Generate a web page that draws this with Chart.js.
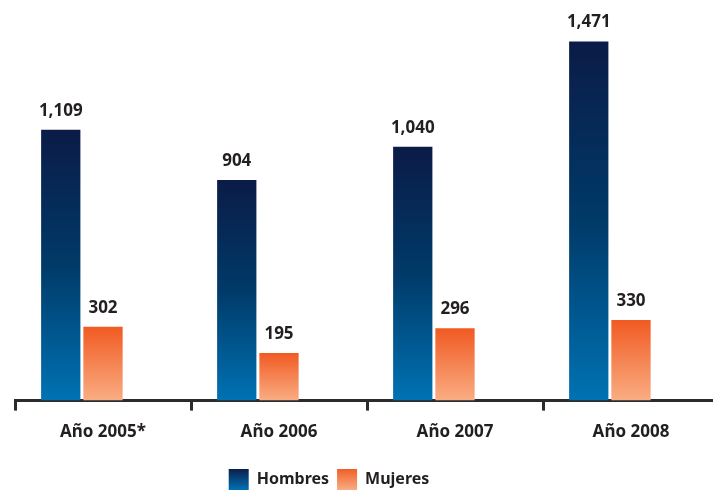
<!DOCTYPE html>
<html>
<head>
<meta charset="utf-8">
<script src="https://cdn.jsdelivr.net/npm/chart.js@4.4.1/dist/chart.umd.min.js"></script>
<style>
  html, body { margin: 0; padding: 0; background: #ffffff; overflow: hidden; }
  #clip { width: 713px; height: 492px; overflow: hidden; position: relative; }
  #wrap { width: 719px; height: 492px; position: relative; }
</style>
</head>
<body>
<div id="clip"><div id="wrap"><canvas id="c"></canvas></div></div>
<script>
const categories = ['Año 2005*', 'Año 2006', 'Año 2007', 'Año 2008'];
const seriesNames = ['Hombres', 'Mujeres'];
const hombres = [1109, 904, 1040, 1471];
const mujeres = [302, 195, 296, 330];
const spacer = [null, null, null, null];

const FONT = "'Noto Sans', 'Open Sans', sans-serif";
const TEXT = '#231f20';

const palettes = [
  ['#0b1b47', '#003a68', '#0072b3'],
  ['#f15a22', '#f58453', '#f9ad83']
];

function barGradient(ctx, dsIndex) {
  const chart = ctx.chart;
  const ys = chart.scales.y;
  if (!ys || ctx.dataIndex === undefined) return palettes[dsIndex][2];
  const v = chart.data.datasets[dsIndex].data[ctx.dataIndex];
  const top = ys.getPixelForValue(v);
  const base = ys.getPixelForValue(0);
  const g = chart.ctx.createLinearGradient(0, top, 0, base);
  g.addColorStop(0, palettes[dsIndex][0]);
  g.addColorStop(0.5, palettes[dsIndex][1]);
  g.addColorStop(1, palettes[dsIndex][2]);
  return g;
}

const valueLabels = {
  id: 'valueLabels',
  afterDatasetsDraw(chart) {
    const c = chart.ctx;
    c.save();
    c.font = "bold 17px " + FONT;
    c.fillStyle = TEXT;
    c.textAlign = 'center';
    c.textBaseline = 'alphabetic';
    [0, 1].forEach(di => {
      const meta = chart.getDatasetMeta(di);
      meta.data.forEach((bar, i) => {
        const v = chart.data.datasets[di].data[i];
        c.fillText(v.toLocaleString('en-US'), bar.x, bar.y - 14);
      });
    });
    c.restore();
  }
};

const legendShift = {
  id: 'legendShift',
  afterLayout(chart) {
    if (chart.legend) {
      chart.legend.left -= 38;
      chart.legend.right -= 38;
      chart.legend.top += 8;
      chart.legend.bottom += 8;
    }
  }
};

const chart = new Chart(document.getElementById('c'), {
  type: 'bar',
  data: {
    labels: categories,
    datasets: [
      { label: seriesNames[0], data: hombres, backgroundColor: ctx => barGradient(ctx, 0) },
      { label: seriesNames[1], data: mujeres, backgroundColor: ctx => barGradient(ctx, 1) },
      { label: '', data: spacer, backgroundColor: 'rgba(0,0,0,0)' }
    ]
  },
  options: {
    responsive: true,
    maintainAspectRatio: false,
    animation: false,
    categoryPercentage: 0.72,
    barPercentage: 0.93,
    layout: { padding: { left: 15, right: 0, top: 10, bottom: 0 } },
    scales: {
      x: {
        offset: true,
        grid: {
          offset: true,
          drawOnChartArea: false,
          drawTicks: true,
          tickLength: 10,
          color: '#2b2b2b',
          lineWidth: 3
        },
        border: { display: true, color: '#2b2b2b', width: 3 },
        ticks: {
          color: TEXT,
          font: { family: FONT, size: 17, weight: 'bold' },
          padding: 11
        }
      },
      y: {
        display: false,
        min: 0,
        max: 1600
      }
    },
    plugins: {
      tooltip: { enabled: false },
      legend: {
        position: 'bottom',
        labels: {
          filter: item => item.datasetIndex < 2,
          boxWidth: 20,
          boxHeight: 21,
          padding: 8,
          color: TEXT,
          font: { family: FONT, size: 16, weight: 'bold' },
          generateLabels(chart) {
            const h = chart.height;
            return [0, 1].map(di => {
              const g = chart.ctx.createLinearGradient(0, h - 24, 0, h - 2);
              g.addColorStop(0, palettes[di][0]);
              g.addColorStop(1, palettes[di][2]);
              return {
                text: chart.data.datasets[di].label,
                fillStyle: g,
                strokeStyle: 'rgba(0,0,0,0)',
                lineWidth: 0,
                hidden: false,
                datasetIndex: di,
                fontColor: TEXT
              };
            });
          }
        }
      }
    }
  },
  plugins: [valueLabels, legendShift]
});
</script>
</body>
</html>
